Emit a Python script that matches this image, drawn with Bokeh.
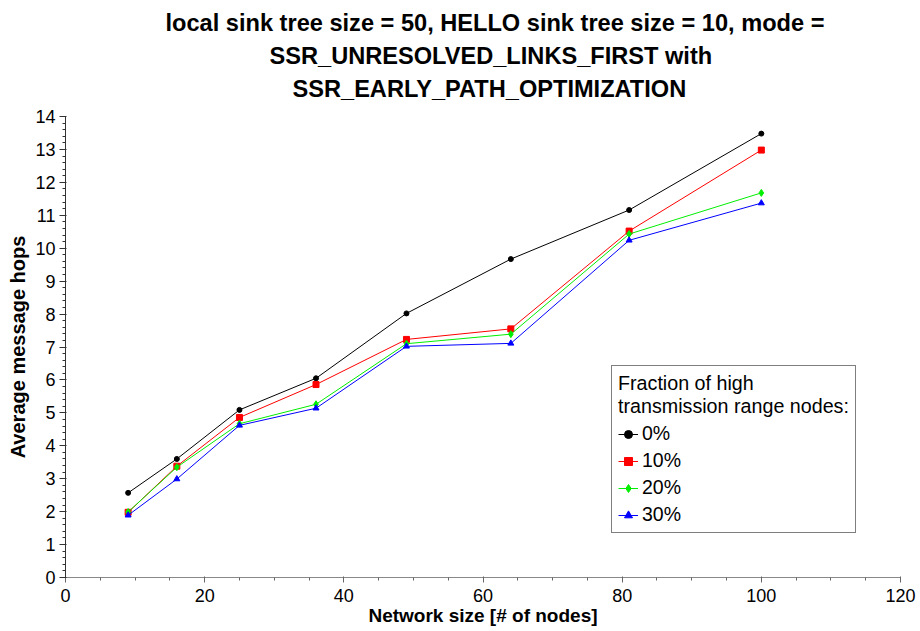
from bokeh.plotting import figure
from bokeh.models import Title, Legend, LegendItem, SingleIntervalTicker, Range1d
from bokeh.embed import file_html
from bokeh.resources import INLINE

# ---- data ----
network_size = [9, 16, 25, 36, 49, 64, 81, 100]
hops_0 = [2.57, 3.60, 5.09, 6.05, 8.02, 9.67, 11.16, 13.48]
hops_10 = [1.98, 3.38, 4.86, 5.86, 7.23, 7.55, 10.52, 12.98]
hops_20 = [1.99, 3.35, 4.67, 5.26, 7.10, 7.39, 10.43, 11.68]
hops_30 = [1.89, 2.99, 4.62, 5.14, 7.02, 7.11, 10.24, 11.37]
series_labels = ["0%", "10%", "20%", "30%"]
title_lines = [
    "local sink tree size = 50, HELLO sink tree size = 10, mode =",
    "SSR_UNRESOLVED_LINKS_FIRST with",
    "SSR_EARLY_PATH_OPTIMIZATION",
]
title_offsets = [100, 204, 227]   # left indent of each centred title line (px)
x_label = "Network size [# of nodes]"
y_label = "Average message hops"
legend_title = "Fraction of high\ntransmission range nodes:"

FONT = "Liberation Sans"

p = figure(frame_width=835, frame_height=461, output_backend="svg",
           toolbar_location=None,
           x_range=Range1d(0, 120), y_range=Range1d(0, 14),
           min_border_left=65, min_border_right=20, min_border_top=116,
           min_border_bottom=54, background_fill_color="white",
           border_fill_color="white")
p.outline_line_color = None
p.grid.visible = False
p.title.visible = False

# small gap between the title block and the plot frame
p.add_layout(Title(text=" ", text_font_size="1px", standoff=9), "above")
# title lines, nearest-to-plot first
for line, off in reversed(list(zip(title_lines, title_offsets))):
    t = Title(text=line, align="left", offset=off, text_font=FONT,
              text_font_size="23.6px", text_font_style="bold",
              text_color="black", standoff=5)
    p.add_layout(t, "above")

# axes
p.xaxis.ticker = SingleIntervalTicker(interval=20, num_minor_ticks=4)
p.yaxis.ticker = SingleIntervalTicker(interval=1, num_minor_ticks=5)
for ax in (p.xaxis[0], p.yaxis[0]):
    ax.major_label_text_font = FONT
    ax.major_label_text_font_size = "18px"
    ax.major_label_text_color = "black"
    ax.axis_label_text_font = FONT
    ax.axis_label_text_font_style = "bold"
    ax.axis_label_text_color = "black"
    ax.major_tick_in = 1
    ax.minor_tick_out = 3
    ax.minor_tick_in = 0
p.xaxis.major_tick_out = 5
p.yaxis.major_tick_out = 6
p.xaxis.major_label_standoff = 6
p.yaxis.major_label_standoff = 4
p.xaxis.axis_label_standoff = 0
p.yaxis.axis_label_standoff = 3
p.xaxis.axis_label = x_label
p.yaxis.axis_label = y_label
p.xaxis.axis_label_text_font_size = "19px"
p.yaxis.axis_label_text_font_size = "20px"
p.xaxis.axis_line_color = "#888888"
p.xaxis.major_tick_line_color = "#666666"
p.xaxis.minor_tick_line_color = "#666666"
p.yaxis.axis_line_color = "#333333"
p.yaxis.major_tick_line_color = "#333333"
p.yaxis.minor_tick_line_color = "#333333"

series = [hops_0, hops_10, hops_20, hops_30]
colors = ["black", "#ff0000", "#00ee00", "#0000ff"]
markers = ["circle", "square", "diamond", "triangle"]
sizes = [5, 6, 7, 6]

items = []
for ys, c, m, s, lab in zip(series, colors, markers, sizes, series_labels):
    r1 = p.line(network_size, ys, line_color=c, line_width=1)
    r2 = p.scatter(network_size, ys, marker=m, size=s, fill_color=c, line_color=c)
    items.append(LegendItem(label=lab, renderers=[r1, r2]))

legend = Legend(items=items, location=(546, 44), title=legend_title,
                title_text_font=FONT, title_text_font_size="19.7px",
                title_text_font_style="normal", title_text_color="black",
                label_text_font=FONT, label_text_font_size="19.5px",
                label_text_color="black",
                glyph_width=20, glyph_height=20, label_height=20,
                label_standoff=4, spacing=4, padding=6, margin=0,
                title_standoff=4,
                border_line_color="black", border_line_width=1,
                background_fill_color="white", background_fill_alpha=1)
p.add_layout(legend, "center")

open("out.html", "w").write(file_html(p, INLINE))
